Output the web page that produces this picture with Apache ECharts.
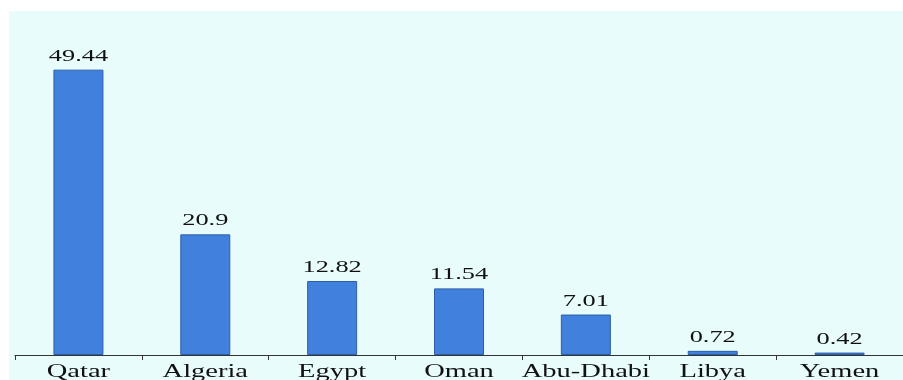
<!DOCTYPE html>
<html>
<head>
<meta charset="utf-8">
<script src="https://cdn.jsdelivr.net/npm/echarts@6/dist/echarts.min.js"></script>
<style>html,body{margin:0;padding:0;background:#fff}#c{width:903px;height:380px}</style>
</head>
<body>
<div id="c"></div>
<script>
const categories = ['Qatar', 'Algeria', 'Egypt', 'Oman', 'Abu-Dhabi', 'Libya', 'Yemen'];
const values = [49.44, 20.9, 12.82, 11.54, 7.01, 0.72, 0.42];

const valueLabelData = values.map((v, i) => [i, v]);
const catLabelData = categories.map((c, i) => [i, 0]);

const chart = echarts.init(document.getElementById('c'));
chart.setOption({
  backgroundColor: '#ffffff',
  animation: false,
  graphic: [{
    type: 'rect', z: -10, silent: true,
    shape: { x: 9, y: 11, width: 900, height: 380 },
    style: { fill: '#e8fcfc' }
  }],
  grid: { left: 15, top: 11, width: 894, height: 344, containLabel: false },
  xAxis: {
    type: 'category',
    data: categories,
    axisLine: { lineStyle: { color: '#333', width: 1.2 } },
    axisTick: { show: true, length: 5, inside: false, lineStyle: { color: '#333' } },
    axisLabel: { show: false }
  },
  yAxis: {
    type: 'value', min: 0, max: 59.6,
    show: false,
    splitLine: { show: false }
  },
  series: [{
    type: 'bar',
    data: values,
    barWidth: 50,
    itemStyle: { color: '#4180dc', borderColor: '#2c5ea8', borderWidth: 1 }
  }, {
    type: 'custom',
    clip: false,
    z: 5,
    data: valueLabelData,
    encode: { x: 0, y: 1 },
    renderItem: function (params, api) {
      const p = api.coord([api.value(0), api.value(1)]);
      return {
        type: 'text', x: p[0], y: p[1] - 5, scaleX: 1.55,
        style: {
          text: String(values[params.dataIndex]),
          align: 'center', verticalAlign: 'bottom',
          fill: '#111', font: '17px "Liberation Serif"'
        }
      };
    }
  }, {
    type: 'custom',
    clip: false,
    z: 5,
    data: catLabelData,
    encode: { x: 0, y: 1 },
    renderItem: function (params, api) {
      const p = api.coord([api.value(0), api.value(1)]);
      return {
        type: 'text', x: p[0], y: p[1] + 8, scaleX: 1.5,
        style: {
          text: categories[params.dataIndex],
          align: 'center', verticalAlign: 'top',
          fill: '#111', font: '19px "Liberation Serif"'
        }
      };
    }
  }]
});
</script>
</body>
</html>
